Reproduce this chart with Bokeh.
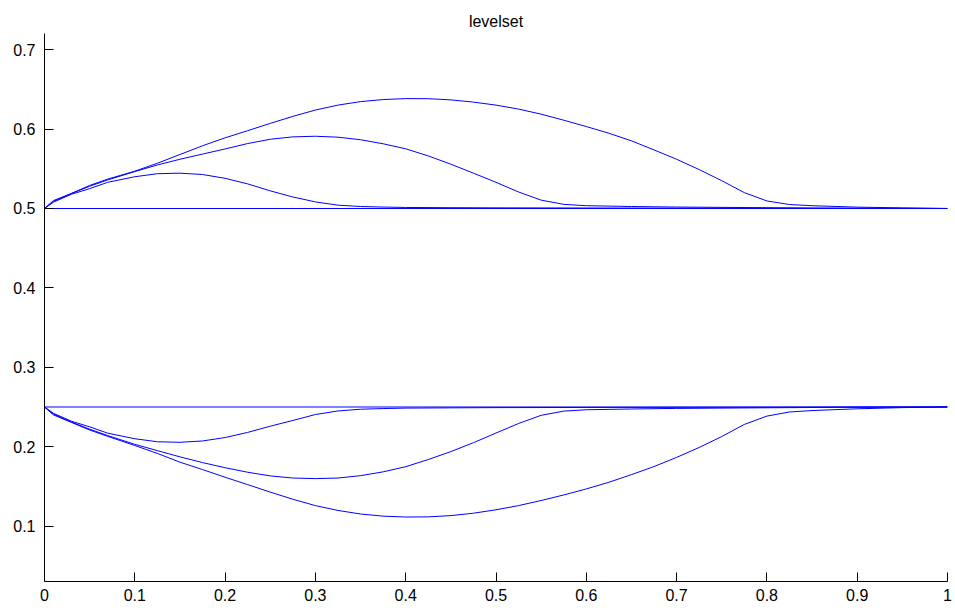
from bokeh.plotting import figure
from bokeh.models import FixedTicker, CustomJSTickFormatter, Range1d
from bokeh.embed import file_html
from bokeh.resources import INLINE

title_text = "levelset"

x_ticks = [0, 0.1, 0.2, 0.3, 0.4, 0.5, 0.6, 0.7, 0.8, 0.9, 1.0]
y_ticks = [0.1, 0.2, 0.3, 0.4, 0.5, 0.6, 0.7]

# flat initial level-set lines
x_flat = [0.0, 1.0]
y_flat_upper = [0.5, 0.5]
y_flat_lower = [0.25, 0.25]

# upper curve A (small bump)
xa = [0, 0.01, 0.03, 0.05, 0.07, 0.1, 0.125, 0.15, 0.175, 0.2, 0.225, 0.25, 0.275,
      0.3, 0.325, 0.35, 0.375, 0.4, 0.45, 0.5, 0.6, 0.7, 0.8, 0.9, 1.0]
ya_up = [0.5, 0.508, 0.518, 0.525, 0.533, 0.540, 0.5438, 0.5445, 0.5428, 0.5380, 0.5310,
         0.5222, 0.5145, 0.5083, 0.5042, 0.5025, 0.5018, 0.5013, 0.5010, 0.5008, 0.5006,
         0.5004, 0.5003, 0.5001, 0.5]
ya_lo = [0.25, 0.242, 0.232, 0.225, 0.217, 0.210, 0.2062, 0.2055, 0.2072, 0.2115, 0.2180,
         0.2258, 0.233, 0.2405, 0.2450, 0.2472, 0.2480, 0.2486, 0.2489, 0.2492, 0.2494,
         0.2496, 0.2497, 0.2499, 0.25]

# curve B (medium bump)
xb = [0, 0.01, 0.03, 0.05, 0.07, 0.1, 0.125, 0.15, 0.175, 0.2, 0.225, 0.25, 0.275,
      0.3, 0.325, 0.35, 0.375, 0.4, 0.425, 0.45, 0.475, 0.5, 0.525, 0.55, 0.575, 0.6,
      0.65, 0.7, 0.8, 0.9, 1.0]
yb_up = [0.5, 0.509, 0.519, 0.528, 0.536, 0.5465, 0.5548, 0.562, 0.5685, 0.575, 0.5818,
         0.5872, 0.5902, 0.591, 0.5898, 0.5866, 0.5815, 0.5752, 0.5662, 0.5558, 0.5445,
         0.5330, 0.5208, 0.5105, 0.5052, 0.5035, 0.5025, 0.5018, 0.5010, 0.5003, 0.5]
yb_lo = [0.25, 0.241, 0.231, 0.222, 0.214, 0.2030, 0.1950, 0.1872, 0.1800, 0.1735, 0.1678,
         0.1632, 0.1605, 0.1598, 0.1605, 0.1635, 0.1683, 0.1748, 0.1838, 0.1938, 0.2050,
         0.2172, 0.2292, 0.2395, 0.2448, 0.2465, 0.2475, 0.2482, 0.249, 0.2497, 0.25]

# curve C (large bump)
xc = [0, 0.01, 0.03, 0.05, 0.07, 0.1, 0.125, 0.15, 0.175, 0.2, 0.225, 0.25, 0.275,
      0.3, 0.325, 0.35, 0.375, 0.4, 0.425, 0.45, 0.475, 0.5, 0.525, 0.55, 0.575, 0.6,
      0.625, 0.65, 0.675, 0.7, 0.725, 0.75, 0.775, 0.8, 0.825, 0.85, 0.9, 0.95, 1.0]
yc_up = [0.5, 0.510, 0.519, 0.529, 0.537, 0.547, 0.557, 0.568, 0.579, 0.589, 0.598,
         0.6072, 0.616, 0.6240, 0.6302, 0.6346, 0.6372, 0.6384, 0.6383, 0.6368, 0.634,
         0.6302, 0.6252, 0.6188, 0.6112, 0.6032, 0.5948, 0.5852, 0.5738, 0.5620, 0.5490,
         0.5350, 0.5200, 0.5095, 0.5050, 0.5035, 0.5017, 0.5008, 0.5]
yc_lo = [0.25, 0.240, 0.2305, 0.221, 0.213, 0.2015, 0.1915, 0.1805, 0.1712, 0.1615, 0.1522,
         0.1428, 0.1338, 0.1258, 0.1197, 0.1152, 0.1125, 0.1114, 0.1116, 0.1132, 0.1162,
         0.1205, 0.1258, 0.1322, 0.1392, 0.1468, 0.1552, 0.1648, 0.1750, 0.1865, 0.1990,
         0.2128, 0.2280, 0.2385, 0.2437, 0.2455, 0.2477, 0.2492, 0.25]

FONT = "Liberation Sans"
BLUE = "#0000ff"

p = figure(width=952, height=610, output_backend="svg",
           toolbar_location=None, x_range=Range1d(0, 1), y_range=Range1d(0.0302, 0.7204),
           min_border_left=44, min_border_right=5, min_border_top=33, min_border_bottom=29,
           title=title_text)
p.title.align = "center"
p.title.vertical_align = "top"
p.title.text_font = FONT
p.title.text_font_size = "16px"
p.title.text_font_style = "normal"
p.title.text_color = "#000000"
p.title.standoff = 4

p.line(x_flat, y_flat_upper, line_color=BLUE, line_width=1)
p.line(x_flat, y_flat_lower, line_color=BLUE, line_width=1)
for xs, ys in [(xa, ya_up), (xa, ya_lo), (xb, yb_up), (xb, yb_lo), (xc, yc_up), (xc, yc_lo)]:
    p.line(xs, ys, line_color=BLUE, line_width=1)

p.outline_line_color = None
p.xgrid.visible = False
p.ygrid.visible = False

fmt = CustomJSTickFormatter(code="return (Math.round(tick*10)/10).toString();")
for ax, ticks in [(p.xaxis[0], x_ticks), (p.yaxis[0], y_ticks)]:
    ax.ticker = FixedTicker(ticks=ticks)
    ax.formatter = fmt
    ax.major_tick_in = 9
    ax.major_tick_out = 0
    ax.minor_tick_in = 0
    ax.minor_tick_out = 0
    ax.axis_line_color = "#000000"
    ax.major_tick_line_color = "#000000"
    ax.major_label_text_font = FONT
    ax.major_label_text_font_size = "16px"
    ax.major_label_text_color = "#000000"
p.yaxis[0].major_label_standoff = 9
p.xaxis[0].major_label_standoff = 7

html = file_html(p, INLINE)
open("out.html", "w").write(html)
